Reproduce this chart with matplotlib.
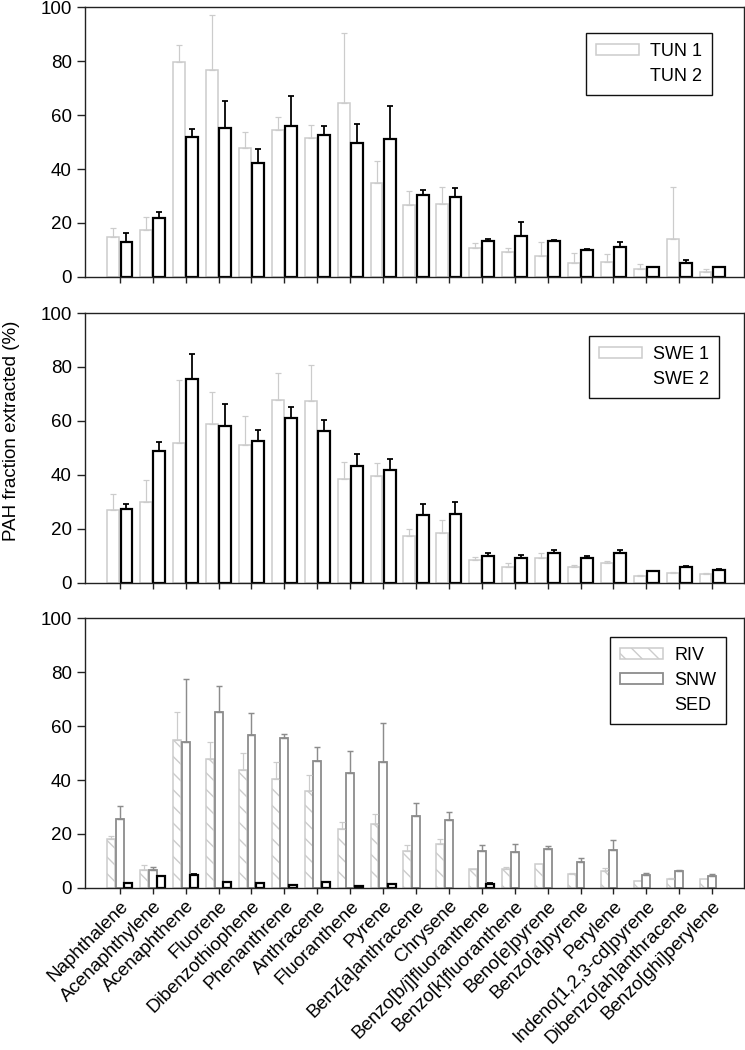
import numpy as np
import matplotlib
matplotlib.use("Agg")
import matplotlib.pyplot as plt
from matplotlib.patches import Patch

plt.rcParams['font.family'] = ['Liberation Sans', 'DejaVu Sans']

compounds = ["Naphthalene", "Acenaphthylene", "Acenaphthene", "Fluorene",
             "Dibenzothiophene", "Phenanthrene", "Anthracene", "Fluoranthene",
             "Pyrene", "Benz[a]anthracene", "Chrysene", "Benzo[b/j]fluoranthene",
             "Benzo[k]fluoranthene", "Beno[e]pyrene", "Benzo[a]pyrene", "Perylene",
             "Indeno[1,2,3-cd]pyrene", "Dibenzo[ah]anthracene", "Benzo[ghi]perylene"]

tun1 = [14.9, 17.4, 79.8, 76.7, 47.7, 54.4, 51.5, 64.3, 34.7, 26.7, 27.2, 10.8, 9.2, 7.8, 5.3, 5.5, 3.1, 14.2, 1.7]
tun1_sd = [3.2, 4.8, 6.2, 20.3, 5.9, 5.0, 4.7, 26.1, 8.2, 5.2, 6.2, 1.9, 1.5, 5.1, 3.6, 3.1, 1.6, 19.3, 1.1]
tun2 = [12.9, 21.8, 52.0, 55.3, 42.4, 56.0, 52.6, 49.5, 51.1, 30.2, 29.7, 13.4, 15.1, 13.4, 10.1, 11.0, 3.7, 5.2, 3.6]
tun2_sd = [3.5, 2.2, 2.7, 10.0, 4.9, 11.0, 3.4, 7.2, 12.1, 1.9, 3.1, 0.8, 5.2, 0.4, 0.1, 1.9, 0.1, 1.0, 0.1]

swe1 = [27.0, 30.0, 52.0, 58.7, 51.0, 67.6, 67.5, 38.4, 39.7, 17.4, 18.6, 8.4, 5.9, 9.4, 5.9, 7.3, 2.7, 3.6, 3.3]
swe1_sd = [5.8, 8.1, 23.0, 11.9, 10.7, 10.1, 13.2, 6.4, 4.9, 2.6, 4.9, 1.2, 1.5, 1.7, 0.6, 0.8, 0.2, 0.6, 0.3]
swe2 = [27.4, 48.7, 75.5, 58.1, 52.7, 61.2, 56.3, 43.2, 41.7, 25.1, 25.7, 10.1, 9.2, 11.1, 9.1, 11.1, 4.3, 5.9, 4.7]
swe2_sd = [1.7, 3.4, 9.4, 8.3, 4.1, 3.9, 4.0, 4.7, 4.4, 4.3, 4.2, 1.0, 1.1, 1.1, 0.8, 1.1, 0.3, 0.3, 0.3]

riv = [18.3, 6.6, 54.9, 47.8, 43.8, 40.4, 35.9, 21.7, 23.8, 13.8, 16.3, 6.9, 7.0, 8.8, 5.2, 6.4, 2.5, 3.3, 3.5]
riv_sd = [1.1, 1.9, 10.2, 6.3, 6.3, 6.4, 6.1, 2.7, 3.6, 2.2, 1.8, 0.3, 0.8, 0.0, 0.4, 0.9, 0.0, 0.4, 0.0]
snw = [25.6, 6.8, 54.0, 65.3, 56.7, 55.4, 47.0, 42.6, 46.8, 26.7, 25.3, 13.8, 13.2, 14.3, 9.6, 14.0, 4.8, 6.4, 4.6]
snw_sd = [4.9, 1.0, 23.4, 9.5, 8.1, 1.8, 5.1, 8.0, 14.3, 4.8, 2.8, 2.0, 3.2, 1.3, 1.5, 3.8, 0.9, 0.3, 0.7]
sed = [2.0, 4.3, 4.7, 2.3, 1.9, 1.0, 2.2, 0.9, 1.4, 0.0, 0.0, 1.5, 0.0, 0.0, 0.0, 0.0, 0.0, 0.0, 0.0]
sed_sd = [0.0, 0.0, 0.3, 0.0, 0.0, 0.0, 0.0, 0.0, 0.0, 0.0, 0.0, 0.4, 0.0, 0.0, 0.0, 0.0, 0.0, 0.0, 0.0]

LIGHT = '#cccccc'
MID = '#8c8c8c'
DARK = '#000000'
FS = 13.5

fig = plt.figure(figsize=(7.45, 10.5), dpi=100)
W = 0.8846
H = 0.2571
axes = [fig.add_axes([0.1141, b, W, H]) for b in (0.7362, 0.4448, 0.1543)]
x = np.arange(len(compounds))


def draw(ax, vals, sds, offset, width, color, lw, hatch=None):
    v = np.array(vals, float)
    s = np.array(sds, float)
    m = v > 0
    ax.bar(x[m] + offset, v[m], width=width, facecolor='white', edgecolor=color,
           linewidth=lw, hatch=hatch, zorder=2)
    em = m & (s > 0)
    ax.errorbar(x[em] + offset, v[em], yerr=[np.zeros(em.sum()), s[em]], fmt='none',
                ecolor=color, elinewidth=lw * 0.8, capsize=2.2, capthick=lw * 0.8, zorder=3)


draw(axes[0], tun1, tun1_sd, -0.2, 0.36, LIGHT, 1.1)
draw(axes[0], tun2, tun2_sd, 0.2, 0.36, DARK, 1.6)
draw(axes[1], swe1, swe1_sd, -0.2, 0.36, LIGHT, 1.1)
draw(axes[1], swe2, swe2_sd, 0.2, 0.36, DARK, 1.6)
draw(axes[2], riv, riv_sd, -0.26, 0.24, LIGHT, 1.1, hatch='\\\\')
draw(axes[2], snw, snw_sd, 0.0, 0.24, MID, 1.3)
draw(axes[2], sed, sed_sd, 0.26, 0.24, DARK, 1.6)

for i, ax in enumerate(axes):
    ax.set_xlim(-1.06, 18.97)
    ax.set_ylim(0, 100)
    ax.set_yticks(range(0, 101, 20))
    ax.set_xticks(x)
    for sp in ax.spines.values():
        sp.set_linewidth(1.0)
        sp.set_color('#222222')
    ax.tick_params(axis='y', direction='out', length=6, width=1, pad=3.5, labelsize=FS, color='#222222')
    ax.tick_params(axis='x', direction='out', length=4.3, width=1, pad=2.5, color='#222222')
    if i < 2:
        ax.set_xticklabels([])
    else:
        ax.set_xticklabels(compounds, rotation=45, ha='right', rotation_mode='anchor', fontsize=13.5)

leg_kw = dict(loc='upper right', fontsize=13, fancybox=False, framealpha=1, borderaxespad=0,
              handlelength=2.4, handleheight=0.6, labelspacing=0.45, borderpad=0.55, handletextpad=0.6)

h1 = [Patch(facecolor='white', edgecolor=LIGHT, linewidth=1.1), Patch(facecolor='none', edgecolor='none')]
l1 = axes[0].legend(h1, ['TUN 1', 'TUN 2'], bbox_to_anchor=(0.951, 0.904), **leg_kw)
l2 = axes[1].legend(h1, ['SWE 1', 'SWE 2'], bbox_to_anchor=(0.962, 0.916), **leg_kw)
h3 = [Patch(facecolor='white', edgecolor=LIGHT, linewidth=1.1, hatch='\\\\'),
      Patch(facecolor='white', edgecolor=MID, linewidth=1.3),
      Patch(facecolor='none', edgecolor='none')]
l3 = axes[2].legend(h3, ['RIV', 'SNW', 'SED'], bbox_to_anchor=(0.973, 0.93), **leg_kw)
for lg in (l1, l2, l3):
    lg.get_frame().set_edgecolor('#111111')
    lg.get_frame().set_linewidth(1.0)

fig.text(0.016, 0.59, 'PAH fraction extracted (%)', rotation=90, va='center', ha='center', fontsize=FS)

fig.savefig('out.png', dpi=100)
